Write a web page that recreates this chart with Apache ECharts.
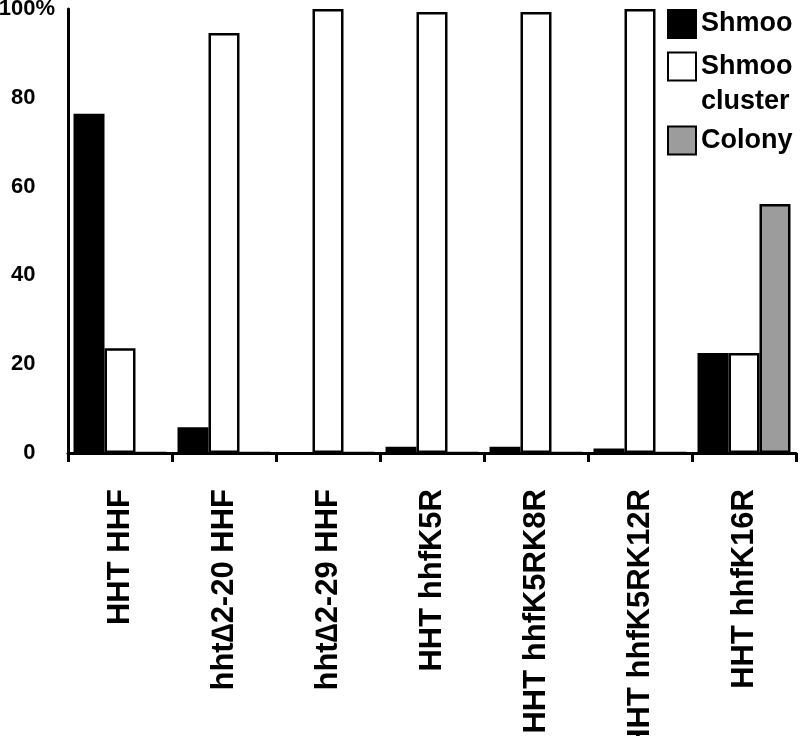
<!DOCTYPE html>
<html>
<head>
<meta charset="utf-8">
<script src="https://cdn.jsdelivr.net/npm/echarts@6/dist/echarts.min.js"></script>
<style>
html,body{margin:0;padding:0;background:#fff;}
#c{width:800px;height:736px;}
</style>
</head>
<body>
<div id="c"></div>
<script>
var categories = ['HHT HHF', 'hht\u22062-20 HHF', 'hht\u22062-29 HHF', 'HHT hhfK5R', 'HHT hhfK5RK8R', 'HHT hhfK5RK12R', 'HHT hhfK16R'];
var shmoo = [76.4, 5.8, 0, 1.4, 1.4, 1.0, 22.5];
var shmooCluster = [23.6, 94.6, 100, 99.3, 99.3, 100, 22.5];
var colony = [0, 0, 0, 0, 0, 0, 56.1];
var yTicks = [0, 20, 40, 60, 80, 100];

var FONT = '"Liberation Sans", Arial, Helvetica, sans-serif';
var chart = echarts.init(document.getElementById('c'), null, {renderer: 'canvas'});

function legendFor(name, top, fmt) {
  return {
    show: true,
    data: [name],
    left: 667,
    top: top,
    padding: 0,
    itemWidth: 28,
    itemHeight: 28,
    icon: 'rect',
    selectedMode: false,
    formatter: fmt,
    textStyle: {fontFamily: FONT, fontWeight: 'bold', fontSize: 27, color: '#000', lineHeight: 35}
  };
}

var option = {
  backgroundColor: '#fff',
  animation: false,
  grid: {left: 68, right: 4, top: 9, bottom: 283, containLabel: false, outerBoundsMode: 'none'},
  legend: [
    legendFor('Shmoo', 6.5, function (n) { return 'Shmoo'; }),
    legendFor('Shmoo cluster', 14, function (n) { return '\nShmoo\ncluster'; }),
    legendFor('Colony', 123, function (n) { return 'Colony'; })
  ],
  xAxis: {
    type: 'category',
    data: categories,
    boundaryGap: true,
    axisLine: {lineStyle: {color: '#000', width: 3}},
    axisTick: {show: true, interval: 0, alignWithLabel: false, length: 9, lineStyle: {color: '#000', width: 3}},
    axisLabel: {interval: 0, rotate: 90, margin: 36, fontFamily: FONT, fontWeight: 'bold', fontSize: 31, color: '#000', hideOverlap: false},
    splitLine: {show: false}
  },
  yAxis: {
    type: 'value',
    min: 0,
    max: 100,
    interval: 20,
    axisLine: {show: true, lineStyle: {color: '#000', width: 3}},
    axisTick: {show: false},
    splitLine: {show: false},
    axisLabel: {
      margin: 13,
      fontFamily: FONT, fontWeight: 'bold', fontSize: 22, color: '#000',
      formatter: function (v) {
        return v === yTicks[yTicks.length - 1] ? v + '%' : v + '{h|%}';
      },
      rich: {h: {color: 'rgba(0,0,0,0)', fontFamily: FONT, fontWeight: 'bold', fontSize: 22}}
    }
  },
  series: [
    {
      name: 'Shmoo', type: 'bar', data: shmoo, barWidth: 31, barGap: '0%',
      itemStyle: {color: '#000', borderColor: '#000', borderWidth: 2}
    },
    {
      name: 'Shmoo cluster', type: 'bar', data: shmooCluster, barWidth: 31, barGap: '0%',
      itemStyle: {color: '#fff', borderColor: '#000', borderWidth: 2.5}
    },
    {
      name: 'Colony', type: 'bar', data: colony, barWidth: 31, barGap: '0%',
      itemStyle: {color: '#9c9c9c', borderColor: '#000', borderWidth: 2.5}
    }
  ]
};
chart.setOption(option);
</script>
</body>
</html>
